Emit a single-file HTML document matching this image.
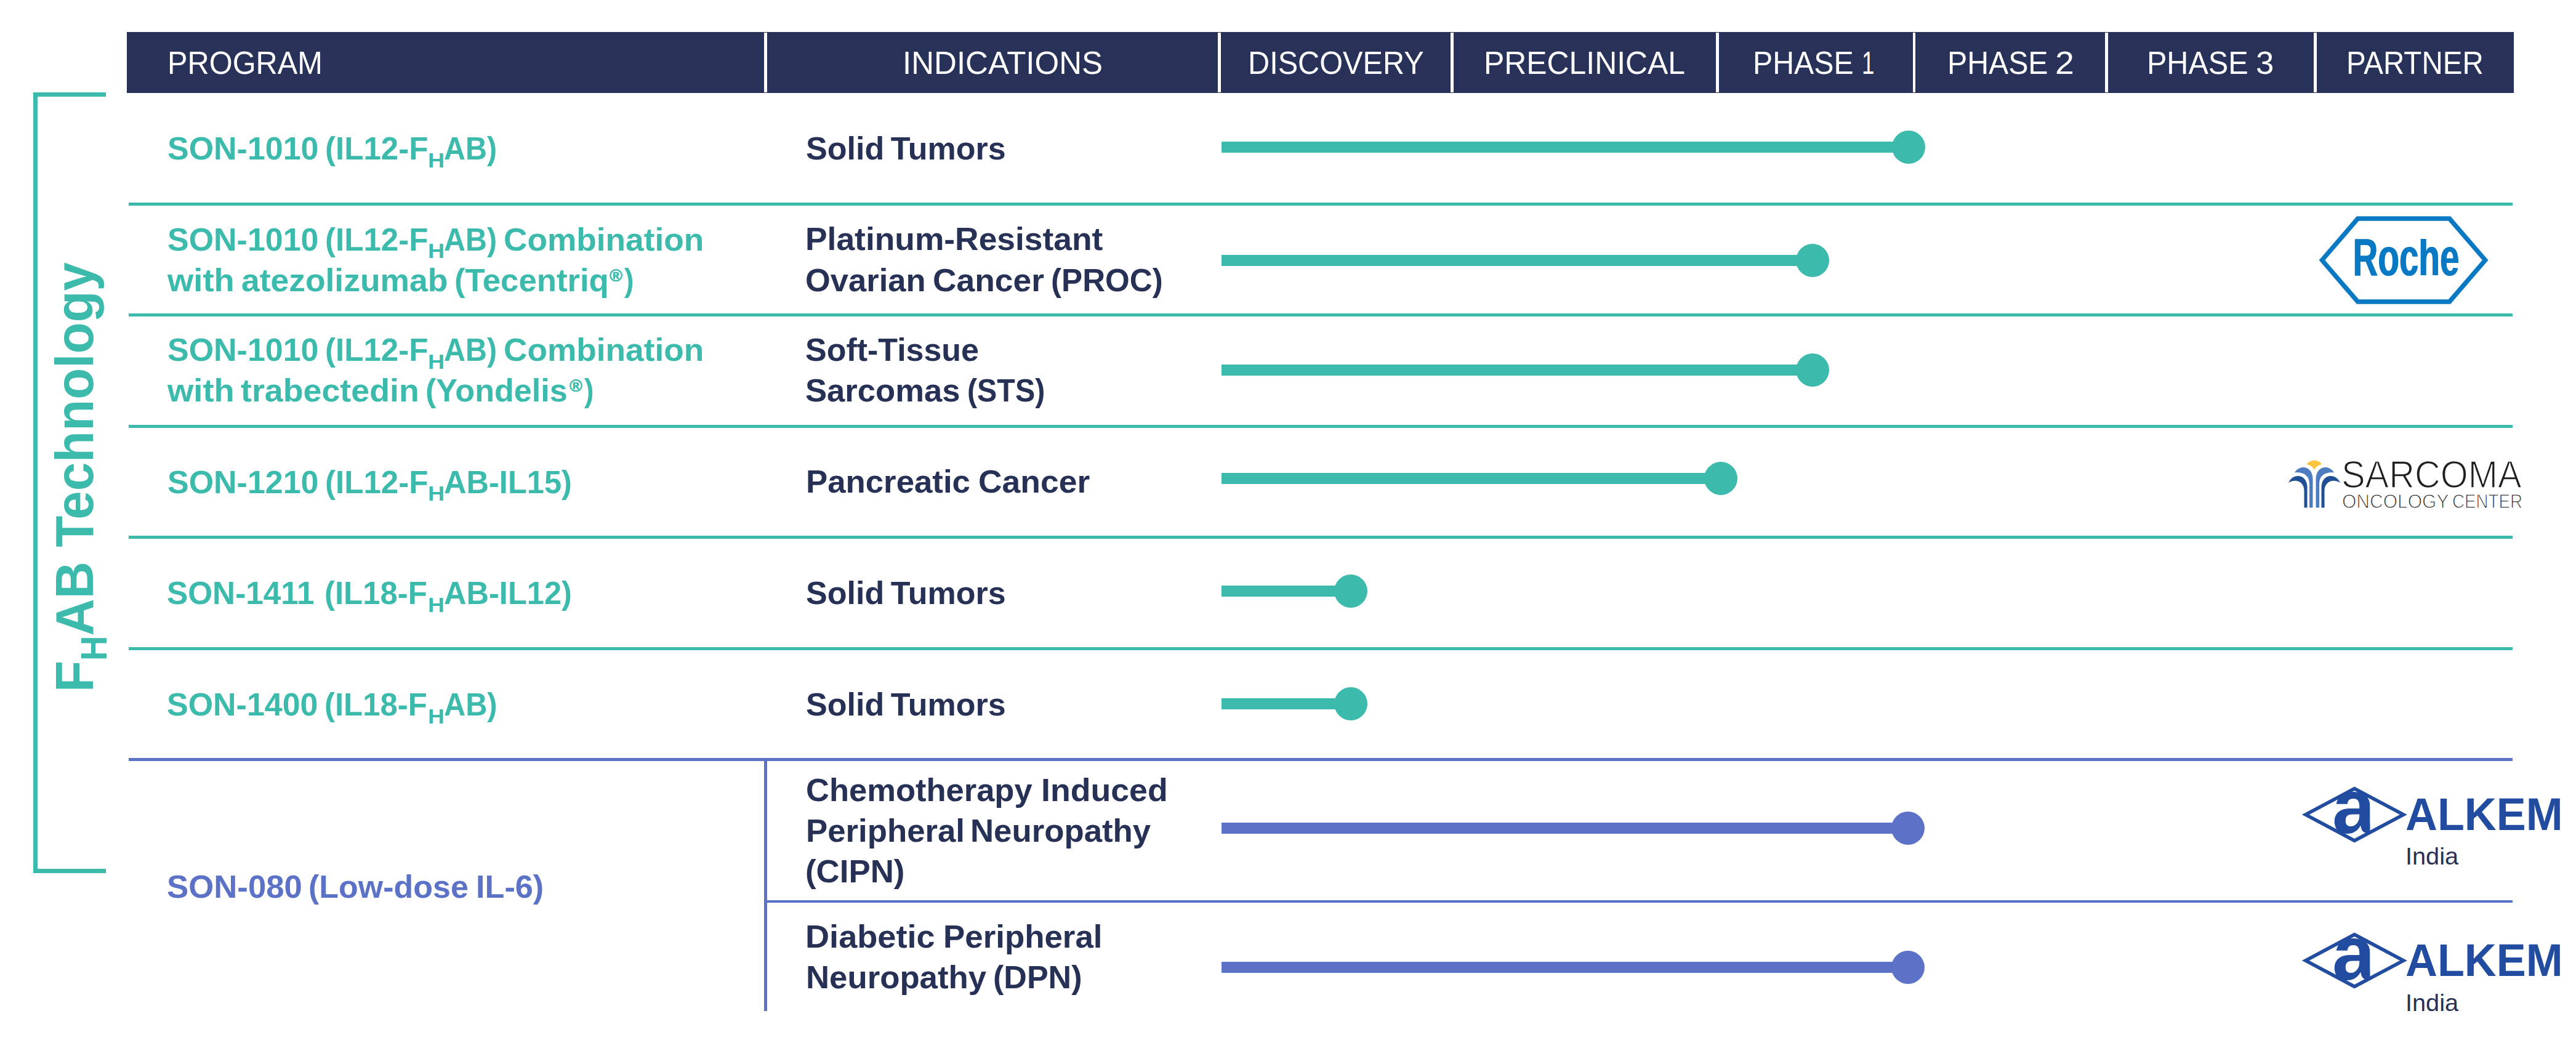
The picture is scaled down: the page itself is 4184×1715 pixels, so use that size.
<!DOCTYPE html><html><head><meta charset="utf-8"><title>Pipeline</title><style>
*{margin:0;padding:0;box-sizing:border-box}
html,body{width:4184px;height:1715px;background:#fff;overflow:hidden}
body{position:relative;font-family:"Liberation Sans",sans-serif}
.a{position:absolute}
.t{position:absolute;top:0;white-space:nowrap;line-height:1;transform-origin:0 0}
.reg{-webkit-text-stroke:0.7px}
.roche{text-shadow:1.6px 0 0 #0a79c4}
.aclip{clip-path:inset(-10px 8.2px -10px 0)}
.thin{-webkit-text-stroke:1.6px #fff}
.thin2{-webkit-text-stroke:1.2px #fff}
</style></head><body>
<div class="a" style="left:206px;top:52px;width:3876.6px;height:98.6px;background:#283258;"></div>
<div class="a" style="left:1241px;top:53px;width:4.7px;height:96.8px;background:#fff;"></div>
<div class="a" style="left:1978.3px;top:53px;width:4.7px;height:96.8px;background:#fff;"></div>
<div class="a" style="left:2356.3px;top:53px;width:4.7px;height:96.8px;background:#fff;"></div>
<div class="a" style="left:2787.4px;top:53px;width:4.7px;height:96.8px;background:#fff;"></div>
<div class="a" style="left:3106.6px;top:53px;width:4.7px;height:96.8px;background:#fff;"></div>
<div class="a" style="left:3419px;top:53px;width:4.7px;height:96.8px;background:#fff;"></div>
<div class="a" style="left:3758px;top:53px;width:4.7px;height:96.8px;background:#fff;"></div>
<div class="a" style="left:54px;top:150px;width:7px;height:1267.8px;background:#3cbaac;"></div>
<div class="a" style="left:54px;top:150px;width:117.7px;height:6.9px;background:#3cbaac;"></div>
<div class="a" style="left:54px;top:1411px;width:118px;height:6.8px;background:#3cbaac;"></div>
<div class="a" style="left:208.5px;top:328.8px;width:3872.2px;height:4.8px;background:#3cbaac;"></div>
<div class="a" style="left:208.5px;top:509.3px;width:3872.2px;height:4.8px;background:#3cbaac;"></div>
<div class="a" style="left:208.5px;top:689.8px;width:3872.2px;height:4.8px;background:#3cbaac;"></div>
<div class="a" style="left:208.5px;top:870.3px;width:3872.2px;height:4.8px;background:#3cbaac;"></div>
<div class="a" style="left:208.5px;top:1050.8px;width:3872.2px;height:4.8px;background:#3cbaac;"></div>
<div class="a" style="left:208.5px;top:1231.3px;width:3872.2px;height:4.8px;background:#5c72c6;"></div>
<div class="a" style="left:1241px;top:1461.5px;width:2839.7px;height:4.9px;background:#5c72c6;"></div>
<div class="a" style="left:1241px;top:1233px;width:4.8px;height:409px;background:#5c72c6;"></div>
<div class="a" style="left:1984px;top:230px;width:1115.7px;height:18px;background:#3cbaac;"></div>
<div class="a" style="left:3072.7px;top:212px;width:54px;height:54px;background:#3cbaac;border-radius:50%"></div>
<div class="a" style="left:1984px;top:414px;width:960px;height:18px;background:#3cbaac;"></div>
<div class="a" style="left:2917px;top:396px;width:54px;height:54px;background:#3cbaac;border-radius:50%"></div>
<div class="a" style="left:1984px;top:591.8px;width:960px;height:18px;background:#3cbaac;"></div>
<div class="a" style="left:2917px;top:573.8px;width:54px;height:54px;background:#3cbaac;border-radius:50%"></div>
<div class="a" style="left:1984px;top:768px;width:810.8px;height:18px;background:#3cbaac;"></div>
<div class="a" style="left:2767.8px;top:750px;width:54px;height:54px;background:#3cbaac;border-radius:50%"></div>
<div class="a" style="left:1984px;top:951px;width:210px;height:18px;background:#3cbaac;"></div>
<div class="a" style="left:2167px;top:933px;width:54px;height:54px;background:#3cbaac;border-radius:50%"></div>
<div class="a" style="left:1984px;top:1133.8px;width:210px;height:18px;background:#3cbaac;"></div>
<div class="a" style="left:2167px;top:1115.8px;width:54px;height:54px;background:#3cbaac;border-radius:50%"></div>
<div class="a" style="left:1984px;top:1336px;width:1115.4px;height:18px;background:#5c72c6;"></div>
<div class="a" style="left:3072.4px;top:1318px;width:54px;height:54px;background:#5c72c6;border-radius:50%"></div>
<div class="a" style="left:1984px;top:1561.8px;width:1115.4px;height:18px;background:#5c72c6;"></div>
<div class="a" style="left:3072.4px;top:1543.8px;width:54px;height:54px;background:#5c72c6;border-radius:50%"></div>
<svg class="a" style="left:3760px;top:345px" width="290" height="156" viewBox="3760 345 290 156">
<polygon points="3766.6,422.6 3827.8,351.2 3980.2,351.2 4041.5,422.6 3980.2,493.8 3827.8,493.8" fill="#0a79c4"/>
<polygon points="3776.3,422.6 3831.3,358.8 3976.7,358.8 4031.8,422.6 3976.7,486.2 3831.3,486.2" fill="#fff"/></svg>
<svg class="a" style="left:3730px;top:1267.6px" width="190" height="110" viewBox="3730 1267.6 190 110">
<polygon points="3738.8,1322.6 3824.2,1277 3909.8,1322.6 3824.2,1368.2" fill="#214c9f"/>
<polygon points="3750.8,1322.6 3824.2,1283.6 3897.8,1322.6 3824.2,1361.6" fill="#fff"/></svg>
<svg class="a" style="left:3730px;top:1505.4px" width="190" height="110" viewBox="3730 1505.4 190 110">
<polygon points="3738.8,1560.4 3824.2,1514.8 3909.8,1560.4 3824.2,1606" fill="#214c9f"/>
<polygon points="3750.8,1560.4 3824.2,1521.4 3897.8,1560.4 3824.2,1599.4" fill="#fff"/></svg>
<svg class="a" style="left:3710px;top:742px" width="100" height="90" viewBox="3710 742 100 90">
<path d="M3746.6,754 C3752,745.8 3765.8,745.8 3771.1,754 C3765,755.5 3761,758.5 3758.9,763 C3756.8,758.5 3752.8,755.5 3746.6,754Z" fill="#fdc43f"/>
<path d="M3727,767.5 C3735,754 3756,756 3756.5,778 L3756.5,824.5 L3751,824.5 L3751,786 C3751,772 3741,766 3727,767.5Z" fill="#4d7cc1"/>
<path d="M3791,767.5 C3783,754 3762,756 3761.5,778 L3761.5,824.5 L3767,824.5 L3767,786 C3767,772 3777,766 3791,767.5Z" fill="#4d7cc1"/>
<path d="M3717,784 C3724,768 3746,769 3747.5,790 L3747.5,824.5 L3742.5,824.5 L3742.5,797 C3742.5,783 3730,776 3717,784Z" fill="#214f96"/>
<path d="M3801,784 C3794,768 3772,769 3770.5,790 L3770.5,824.5 L3775.5,824.5 L3775.5,797 C3775.5,783 3788,776 3801,784Z" fill="#214f96"/>
</svg>
<div class="t" style="left:151.8px;top:1123.50px;font-size:88px;font-weight:700;color:#3cbaac;transform:rotate(-90deg) scaleX(0.9493) translateY(-74.51px)">F<span style="font-size:59px;position:relative;top:21.7px">H</span>AB Technology</div>
<div class="t" style="left:271.67px;font-size:52.4px;font-weight:400;color:#fff;transform:translateY(75.83px) scaleX(0.9305)">PROGRAM</div>
<div class="t" style="left:1466.15px;font-size:52.4px;font-weight:400;color:#fff;transform:translateY(75.83px) scaleX(0.9741)">INDICATIONS</div>
<div class="t" style="left:2027.18px;font-size:52.4px;font-weight:400;color:#fff;transform:translateY(75.83px) scaleX(0.9285)">DISCOVERY</div>
<div class="t" style="left:2410.48px;font-size:52.4px;font-weight:400;color:#fff;transform:translateY(75.83px) scaleX(0.9519)">PRECLINICAL</div>
<div class="t" style="left:2846.71px;font-size:52.4px;font-weight:400;color:#fff;transform:translateY(75.83px) scaleX(0.9211)">PHASE</div>
<div class="t" style="left:3023.79px;font-size:52.4px;font-weight:400;color:#fff;transform:translateY(75.83px) scaleX(0.7015)">1</div>
<div class="t" style="left:3162.81px;font-size:52.4px;font-weight:400;color:#fff;transform:translateY(75.83px) scaleX(0.9205)">PHASE</div>
<div class="t" style="left:3337.68px;font-size:52.4px;font-weight:400;color:#fff;transform:translateY(75.83px) scaleX(1.0583)">2</div>
<div class="t" style="left:3487.49px;font-size:52.4px;font-weight:400;color:#fff;transform:translateY(75.83px) scaleX(0.9263)">PHASE</div>
<div class="t" style="left:3664.19px;font-size:52.4px;font-weight:400;color:#fff;transform:translateY(75.83px) scaleX(1.0040)">3</div>
<div class="t" style="left:3810.57px;font-size:52.4px;font-weight:400;color:#fff;transform:translateY(75.83px) scaleX(0.9075)">PARTNER</div>
<div class="t" style="left:271.63px;font-size:52px;font-weight:700;color:#3cbaac;transform:translateY(214.87px) scaleX(0.9992)">SON-1010</div>
<div class="t" style="left:527.58px;font-size:52px;font-weight:700;color:#3cbaac;transform:translateY(214.87px) scaleX(0.9825)">(IL12-F</div>
<div class="t" style="left:695.32px;font-size:34px;font-weight:700;color:#3cbaac;transform:translateY(242.71px) scaleX(1.1050)">H</div>
<div class="t" style="left:721.16px;font-size:52px;font-weight:700;color:#3cbaac;transform:translateY(214.87px) scaleX(0.9306)">AB)</div>
<div class="t" style="left:271.63px;font-size:52px;font-weight:700;color:#3cbaac;transform:translateY(362.57px) scaleX(0.9992)">SON-1010</div>
<div class="t" style="left:527.58px;font-size:52px;font-weight:700;color:#3cbaac;transform:translateY(362.57px) scaleX(0.9825)">(IL12-F</div>
<div class="t" style="left:695.32px;font-size:34px;font-weight:700;color:#3cbaac;transform:translateY(390.41px) scaleX(1.1050)">H</div>
<div class="t" style="left:721.16px;font-size:52px;font-weight:700;color:#3cbaac;transform:translateY(362.57px) scaleX(0.9306)">AB)</div>
<div class="t" style="left:818.25px;font-size:52px;font-weight:700;color:#3cbaac;transform:translateY(362.57px) scaleX(1.0235)">Combination</div>
<div class="t" style="left:271.80px;font-size:52px;font-weight:700;color:#3cbaac;transform:translateY(428.97px) scaleX(1.0460)">with</div>
<div class="t" style="left:391.79px;font-size:52px;font-weight:700;color:#3cbaac;transform:translateY(428.97px) scaleX(1.0271)">atezolizumab</div>
<div class="t" style="left:738.00px;font-size:52px;font-weight:700;color:#3cbaac;transform:translateY(428.97px) scaleX(1.0131)">(Tecentriq</div>
<div class="t reg" style="left:989.80px;font-size:27.5px;font-weight:700;color:#3cbaac;transform:translateY(433.72px) scaleX(1.0230)">&reg;</div>
<div class="t" style="left:1014.00px;font-size:52px;font-weight:700;color:#3cbaac;transform:translateY(428.97px) scaleX(0.8932)">)</div>
<div class="t" style="left:271.63px;font-size:52px;font-weight:700;color:#3cbaac;transform:translateY(542.37px) scaleX(0.9992)">SON-1010</div>
<div class="t" style="left:527.58px;font-size:52px;font-weight:700;color:#3cbaac;transform:translateY(542.37px) scaleX(0.9825)">(IL12-F</div>
<div class="t" style="left:695.32px;font-size:34px;font-weight:700;color:#3cbaac;transform:translateY(570.21px) scaleX(1.1050)">H</div>
<div class="t" style="left:721.16px;font-size:52px;font-weight:700;color:#3cbaac;transform:translateY(542.37px) scaleX(0.9306)">AB)</div>
<div class="t" style="left:818.25px;font-size:52px;font-weight:700;color:#3cbaac;transform:translateY(542.37px) scaleX(1.0235)">Combination</div>
<div class="t" style="left:271.80px;font-size:52px;font-weight:700;color:#3cbaac;transform:translateY(608.27px) scaleX(1.0460)">with</div>
<div class="t" style="left:391.31px;font-size:52px;font-weight:700;color:#3cbaac;transform:translateY(608.27px) scaleX(1.0339)">trabectedin</div>
<div class="t" style="left:691.23px;font-size:52px;font-weight:700;color:#3cbaac;transform:translateY(608.27px) scaleX(1.0030)">(Yondelis</div>
<div class="t reg" style="left:924.60px;font-size:27.5px;font-weight:700;color:#3cbaac;transform:translateY(613.02px) scaleX(1.0230)">&reg;</div>
<div class="t" style="left:948.80px;font-size:52px;font-weight:700;color:#3cbaac;transform:translateY(608.27px) scaleX(0.8932)">)</div>
<div class="t" style="left:271.63px;font-size:52px;font-weight:700;color:#3cbaac;transform:translateY(756.57px) scaleX(0.9992)">SON-1210</div>
<div class="t" style="left:527.58px;font-size:52px;font-weight:700;color:#3cbaac;transform:translateY(756.57px) scaleX(0.9825)">(IL12-F</div>
<div class="t" style="left:695.32px;font-size:34px;font-weight:700;color:#3cbaac;transform:translateY(784.41px) scaleX(1.1050)">H</div>
<div class="t" style="left:720.90px;font-size:52px;font-weight:700;color:#3cbaac;transform:translateY(756.57px) scaleX(0.9724)">AB-IL15)</div>
<div class="t" style="left:271.46px;font-size:52px;font-weight:700;color:#3cbaac;transform:translateY(937.07px) scaleX(0.9864)">SON-1411</div>
<div class="t" style="left:527.29px;font-size:52px;font-weight:700;color:#3cbaac;transform:translateY(937.07px) scaleX(0.9783)">(IL18-F</div>
<div class="t" style="left:695.45px;font-size:34px;font-weight:700;color:#3cbaac;transform:translateY(964.91px) scaleX(1.0950)">H</div>
<div class="t" style="left:720.80px;font-size:52px;font-weight:700;color:#3cbaac;transform:translateY(937.07px) scaleX(0.9724)">AB-IL12)</div>
<div class="t" style="left:271.43px;font-size:52px;font-weight:700;color:#3cbaac;transform:translateY(1117.67px) scaleX(0.9992)">SON-1400</div>
<div class="t" style="left:527.29px;font-size:52px;font-weight:700;color:#3cbaac;transform:translateY(1117.67px) scaleX(0.9783)">(IL18-F</div>
<div class="t" style="left:695.45px;font-size:34px;font-weight:700;color:#3cbaac;transform:translateY(1145.51px) scaleX(1.0950)">H</div>
<div class="t" style="left:720.85px;font-size:52px;font-weight:700;color:#3cbaac;transform:translateY(1117.67px) scaleX(0.9362)">AB)</div>
<div class="t" style="left:271.31px;font-size:52px;font-weight:700;color:#5c72c6;transform:translateY(1413.57px) scaleX(1.0146)">SON-080</div>
<div class="t" style="left:501.34px;font-size:52px;font-weight:700;color:#5c72c6;transform:translateY(1413.57px) scaleX(0.9993)">(Low-dose</div>
<div class="t" style="left:772.95px;font-size:52px;font-weight:700;color:#5c72c6;transform:translateY(1413.57px) scaleX(1.0042)">IL-6)</div>
<div class="t" style="left:1308.53px;font-size:52px;font-weight:700;color:#273156;transform:translateY(214.87px) scaleX(1.0016)">Solid</div>
<div class="t" style="left:1446.83px;font-size:52px;font-weight:700;color:#273156;transform:translateY(214.87px) scaleX(1.0000)">Tumors</div>
<div class="t" style="left:1308.53px;font-size:52px;font-weight:700;color:#273156;transform:translateY(937.07px) scaleX(1.0016)">Solid</div>
<div class="t" style="left:1446.83px;font-size:52px;font-weight:700;color:#273156;transform:translateY(937.07px) scaleX(1.0000)">Tumors</div>
<div class="t" style="left:1308.53px;font-size:52px;font-weight:700;color:#273156;transform:translateY(1117.67px) scaleX(1.0016)">Solid</div>
<div class="t" style="left:1446.83px;font-size:52px;font-weight:700;color:#273156;transform:translateY(1117.67px) scaleX(1.0000)">Tumors</div>
<div class="t" style="left:1307.98px;font-size:52px;font-weight:700;color:#273156;transform:translateY(362.47px) scaleX(1.0263)">Platinum-Resistant</div>
<div class="t" style="left:1307.88px;font-size:52px;font-weight:700;color:#273156;transform:translateY(428.77px) scaleX(1.0094)">Ovarian</div>
<div class="t" style="left:1515.25px;font-size:52px;font-weight:700;color:#273156;transform:translateY(428.77px) scaleX(1.0261)">Cancer</div>
<div class="t" style="left:1707.08px;font-size:52px;font-weight:700;color:#273156;transform:translateY(428.77px) scaleX(0.9835)">(PROC)</div>
<div class="t" style="left:1308.33px;font-size:52px;font-weight:700;color:#273156;transform:translateY(542.37px) scaleX(0.9994)">Soft-Tissue</div>
<div class="t" style="left:1308.31px;font-size:52px;font-weight:700;color:#273156;transform:translateY(608.37px) scaleX(1.0120)">Sarcomas</div>
<div class="t" style="left:1570.82px;font-size:52px;font-weight:700;color:#273156;transform:translateY(608.37px) scaleX(0.9299)">(STS)</div>
<div class="t" style="left:1309.02px;font-size:52px;font-weight:700;color:#273156;transform:translateY(756.47px) scaleX(1.0146)">Pancreatic</div>
<div class="t" style="left:1589.04px;font-size:52px;font-weight:700;color:#273156;transform:translateY(756.47px) scaleX(1.0278)">Cancer</div>
<div class="t" style="left:1309.08px;font-size:52px;font-weight:700;color:#273156;transform:translateY(1256.87px) scaleX(1.0098)">Chemotherapy</div>
<div class="t" style="left:1691.06px;font-size:52px;font-weight:700;color:#273156;transform:translateY(1256.87px) scaleX(1.0318)">Induced</div>
<div class="t" style="left:1309.02px;font-size:52px;font-weight:700;color:#273156;transform:translateY(1323.17px) scaleX(1.0144)">Peripheral</div>
<div class="t" style="left:1576.02px;font-size:52px;font-weight:700;color:#273156;transform:translateY(1323.17px) scaleX(1.0146)">Neuropathy</div>
<div class="t" style="left:1307.69px;font-size:52px;font-weight:700;color:#273156;transform:translateY(1389.17px) scaleX(1.0158)">(CIPN)</div>
<div class="t" style="left:1308.43px;font-size:52px;font-weight:700;color:#273156;transform:translateY(1494.97px) scaleX(1.0409)">Diabetic</div>
<div class="t" style="left:1532.11px;font-size:52px;font-weight:700;color:#273156;transform:translateY(1494.97px) scaleX(1.0164)">Peripheral</div>
<div class="t" style="left:1309.02px;font-size:52px;font-weight:700;color:#273156;transform:translateY(1561.07px) scaleX(1.0143)">Neuropathy</div>
<div class="t" style="left:1612.83px;font-size:52px;font-weight:700;color:#273156;transform:translateY(1561.07px) scaleX(1.0007)">(DPN)</div>
<div class="t" style="left:3907.25px;font-size:73.8px;font-weight:700;color:#214c9f;transform:translateY(1285.61px) scaleX(0.9740)">ALKEM</div>
<div class="t" style="left:3907.32px;font-size:38.5px;font-weight:400;color:#273156;transform:translateY(1372.30px) scaleX(1.0300)">India</div>
<div class="t aclip" style="left:3788.37px;font-size:123.4px;font-weight:700;color:#214c9f;transform:translateY(1249.42px) scaleX(1.0182)">a</div>
<div class="t" style="left:3907.25px;font-size:73.8px;font-weight:700;color:#214c9f;transform:translateY(1523.41px) scaleX(0.9740)">ALKEM</div>
<div class="t" style="left:3907.32px;font-size:38.5px;font-weight:400;color:#273156;transform:translateY(1610.10px) scaleX(1.0300)">India</div>
<div class="t aclip" style="left:3788.37px;font-size:123.4px;font-weight:700;color:#214c9f;transform:translateY(1487.22px) scaleX(1.0182)">a</div>
<div class="t roche" style="left:3820.80px;font-size:84.4px;font-weight:700;color:#0a79c4;transform:translateY(375.54px) scaleX(0.6702)">Roche</div>
<div class="t thin" style="left:3803.28px;font-size:62.3px;font-weight:400;color:#231f20;transform:translateY(739.65px) scaleX(0.9291)">SARCOMA</div>
<div class="t thin2" style="left:3804.42px;font-size:32px;font-weight:400;color:#231f20;transform:translateY(798.41px) scaleX(0.9381)">ONCOLOGY</div>
<div class="t thin2" style="left:3982.88px;font-size:32px;font-weight:400;color:#231f20;transform:translateY(798.41px) scaleX(0.8668)">CENTER</div>
<div class="a" style="left:3928px;top:380px;width:15px;height:8.3px;background:#fff;"></div>
</body></html>
